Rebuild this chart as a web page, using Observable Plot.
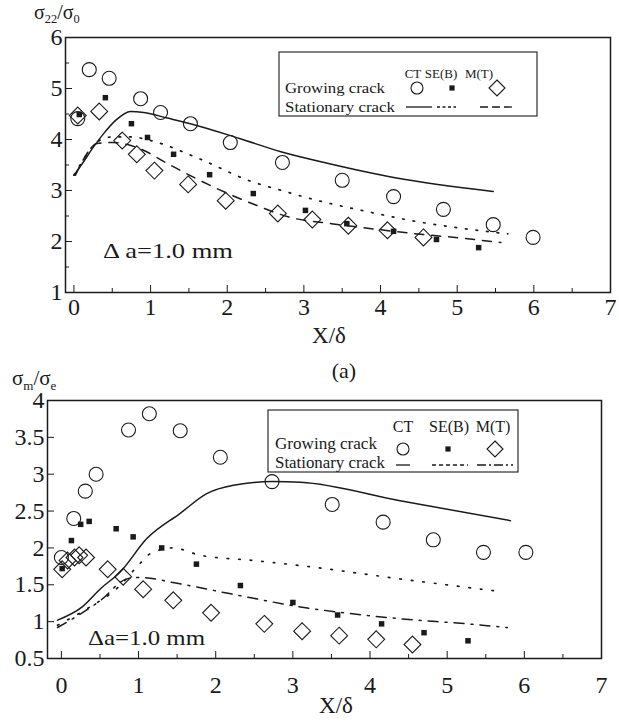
<!DOCTYPE html>
<html><head><meta charset="utf-8">
<script src="https://cdn.jsdelivr.net/npm/d3@7"></script>
<script src="https://cdn.jsdelivr.net/npm/@observablehq/plot@0.6"></script>
<style>
html,body{margin:0;padding:0;background:#fff;}
#wrap{position:relative;width:619px;height:725px;overflow:hidden;background:#fff;font-family:'Liberation Serif',serif;}
#wrap > svg{position:absolute;left:0;}
#wrap svg text{font-family:'Liberation Serif','Times New Roman',serif;}
</style></head><body><div id="wrap"></div>
<script>
// ---------- tick values ----------
const xTicks = [0, 1, 2, 3, 4, 5, 6, 7];
const xMinor = [0.5, 1.5, 2.5, 3.5, 4.5, 5.5, 6.5];
const topYTicks = [1, 2, 3, 4, 5, 6];
const topYMinor = [1.5, 2.5, 3.5, 4.5, 5.5];
const botYTicks = [0.5, 1, 1.5, 2, 2.5, 3, 3.5, 4];

// ---------- top panel (a): sigma22/sigma0 ----------
const topCtX = [0.05, 0.2, 0.46, 0.87, 1.13, 1.52, 2.04, 2.72, 3.5, 4.17, 4.82, 5.47, 5.99];
const topCtY = [4.41, 5.37, 5.2, 4.8, 4.53, 4.31, 3.94, 3.55, 3.2, 2.88, 2.63, 2.33, 2.08];
const topSeX = [0.07, 0.41, 0.75, 0.96, 1.3, 1.77, 2.34, 3.02, 3.56, 4.17, 4.73, 5.28];
const topSeY = [4.49, 4.82, 4.31, 4.04, 3.71, 3.31, 2.94, 2.61, 2.35, 2.2, 2.04, 1.88];
const topMtX = [0.05, 0.33, 0.63, 0.82, 1.05, 1.49, 1.98, 2.66, 3.11, 3.58, 4.09, 4.56];
const topMtY = [4.47, 4.55, 3.98, 3.71, 3.39, 3.12, 2.8, 2.55, 2.43, 2.31, 2.22, 2.08];

const topCtLineX = [0, 0.11, 0.24, 0.39, 0.54, 0.74, 0.91, 1.22, 1.52, 2.16, 2.7, 3.32, 4.19, 5.47];
const topCtLineY = [3.3, 3.53, 3.82, 4.12, 4.37, 4.55, 4.53, 4.42, 4.31, 4.02, 3.76, 3.53, 3.25, 2.98];
const topSeLineX = [0, 0.1, 0.3, 0.5, 0.75, 1.0, 1.64, 2.31, 2.71, 3.19, 3.88, 4.4, 5.1, 5.66];
const topSeLineY = [3.3, 3.55, 3.95, 4.05, 4.05, 3.98, 3.62, 3.18, 3.0, 2.8, 2.57, 2.41, 2.25, 2.15];
const topMtLineX = [0.02, 0.12, 0.3, 0.5, 0.7, 0.86, 1.22, 1.64, 2.07, 2.33, 2.83, 3.36, 3.94, 4.4, 5.1, 5.57];
const topMtLineY = [3.3, 3.6, 3.92, 3.94, 3.9, 3.82, 3.53, 3.2, 2.9, 2.74, 2.47, 2.35, 2.24, 2.16, 2.06, 1.98];

// ---------- bottom panel: sigma_m/sigma_e ----------
const botCtX = [0, 0.16, 0.31, 0.45, 0.87, 1.14, 1.54, 2.06, 2.73, 3.51, 4.17, 4.82, 5.47, 6.02];
const botCtY = [1.87, 2.4, 2.77, 3.0, 3.6, 3.82, 3.59, 3.23, 2.9, 2.59, 2.35, 2.11, 1.94, 1.94];
const botSeX = [0.01, 0.13, 0.25, 0.36, 0.71, 0.93, 1.3, 1.75, 2.32, 3.0, 3.58, 4.15, 4.7, 5.27];
const botSeY = [1.72, 2.1, 2.32, 2.36, 2.26, 2.15, 2.0, 1.78, 1.49, 1.26, 1.09, 0.97, 0.85, 0.74];
const botMtX = [0.01, 0.08, 0.17, 0.23, 0.32, 0.6, 0.8, 1.06, 1.45, 1.94, 2.63, 3.12, 3.6, 4.08, 4.55];
const botMtY = [1.71, 1.83, 1.87, 1.9, 1.87, 1.71, 1.61, 1.44, 1.29, 1.12, 0.97, 0.87, 0.81, 0.76, 0.69];

const botCtLineX = [-0.05, 0.27, 0.51, 0.76, 1.11, 1.54, 1.89, 2.23, 2.73, 3.1, 4.39, 5.82];
const botCtLineY = [1.02, 1.2, 1.45, 1.67, 2.13, 2.47, 2.74, 2.85, 2.9, 2.89, 2.64, 2.37];
const botSeLineX = [-0.05, 0.34, 0.73, 1.02, 1.15, 1.45, 1.8, 2.49, 3.1, 4.39, 5.6];
const botSeLineY = [0.95, 1.18, 1.46, 1.79, 1.92, 2.0, 1.9, 1.83, 1.76, 1.58, 1.42];
const botMtLineX = [-0.05, 0.51, 0.85, 1.02, 1.5, 2.23, 3.1, 3.74, 4.39, 5.26, 5.78];
const botMtLineY = [0.92, 1.29, 1.58, 1.6, 1.52, 1.37, 1.2, 1.11, 1.04, 0.97, 0.92];

const rows = (xs, ys) => xs.map((x, i) => ({x, y: ys[i]}));
const INK = "#1a1a1a";
const FONT = "'Liberation Serif', 'Times New Roman', serif";

function panel({height, mt, mb, ml, mr, xDomain, yDomain, yTicks, yMinor, xPad, ct, se, mt_, ctL, seL, mtL, seDash, mtDash}) {
  const marks = [
    Plot.frame({stroke: INK, strokeWidth: 1.5}),
    Plot.axisX({ticks: xTicks, tickSize: -7, text: null, stroke: INK}),
    Plot.axisX({ticks: xMinor, tickSize: -4, text: null, stroke: INK}),
    Plot.axisX({ticks: xTicks, tickSize: 0, tickPadding: xPad, tickFormat: d => String(d), fontSize: 24, fontFamily: FONT, label: null}),
    Plot.axisY({ticks: yTicks, tickSize: -7, text: null, stroke: INK}),
    Plot.axisY({ticks: yTicks, tickSize: 0, tickPadding: 3, tickFormat: d => String(d), fontSize: 24, fontFamily: FONT, label: null}),
    Plot.line(ctL, {x: "x", y: "y", stroke: INK, strokeWidth: 1.5, curve: "monotone-x"}),
    Plot.line(seL, {x: "x", y: "y", stroke: INK, strokeWidth: 1.7, strokeDasharray: seDash, curve: "monotone-x"}),
    Plot.line(mtL, {x: "x", y: "y", stroke: INK, strokeWidth: 1.5, strokeDasharray: mtDash, curve: "monotone-x"}),
    Plot.dot(ct, {x: "x", y: "y", symbol: "circle", r: 7, stroke: INK, fill: "none", strokeWidth: 1.1}),
    Plot.dot(se, {x: "x", y: "y", symbol: "square", r: 3.1, fill: INK, stroke: "none"}),
    Plot.dot(mt_, {x: "x", y: "y", symbol: "diamond2", r: 7.6, stroke: INK, fill: "none", strokeWidth: 1.1})
  ];
  if (yMinor) marks.splice(5, 0, Plot.axisY({ticks: yMinor, tickSize: -4, text: null, stroke: INK}));
  return Plot.plot({
    width: 619, height,
    marginTop: mt, marginBottom: mb, marginLeft: ml, marginRight: mr,
    style: {fontFamily: FONT, fontSize: "24px", color: INK, background: "transparent", overflow: "visible"},
    x: {domain: xDomain, label: null},
    y: {domain: yDomain, label: null},
    marks
  });
}

const wrap = document.getElementById("wrap");

const topSvg = panel({
  height: 350, mt: 37, mb: 58, ml: 65, mr: 9,
  xDomain: [-0.11, 7], yDomain: [1, 6], yTicks: topYTicks, yMinor: topYMinor, xPad: 5,
  ct: rows(topCtX, topCtY), se: rows(topSeX, topSeY), mt_: rows(topMtX, topMtY),
  ctL: rows(topCtLineX, topCtLineY), seL: rows(topSeLineX, topSeLineY), mtL: rows(topMtLineX, topMtLineY),
  seDash: "1.6,9", mtDash: "9,8"
});
topSvg.style.top = "0px";
wrap.appendChild(topSvg);

const botSvg = panel({
  height: 365, mt: 40, mb: 67, ml: 47, mr: 18,
  xDomain: [-0.18, 7], yDomain: [0.5, 4], yTicks: botYTicks, yMinor: null, xPad: 17,
  ct: rows(botCtX, botCtY), se: rows(botSeX, botSeY), mt_: rows(botMtX, botMtY),
  ctL: rows(botCtLineX, botCtLineY), seL: rows(botSeLineX, botSeLineY), mtL: rows(botMtLineX, botMtLineY),
  seDash: "1.6,10", mtDash: "10,7,2,7"
});
botSvg.style.top = "360px";
wrap.appendChild(botSvg);

// ---------- overlay: titles, annotations, legends ----------
const ov = d3.select(wrap).append("svg")
  .attr("width", 619).attr("height", 725)
  .style("position", "absolute").style("top", "0px").style("left", "0px")
  .attr("font-family", FONT).attr("fill", INK);

function sigmaLabel(x, y, size, s1, s2) {
  const t = ov.append("text").attr("x", x).attr("y", y).attr("font-size", size);
  t.append("tspan").text("σ");
  t.append("tspan").attr("font-size", size * 0.62).attr("dy", size * 0.22).text(s1);
  t.append("tspan").attr("dy", -size * 0.22).text("/σ");
  t.append("tspan").attr("font-size", size * 0.62).attr("dy", size * 0.22).text(s2);
}
sigmaLabel(34, 19, 20, "22", "0");
sigmaLabel(12, 385, 21, "m", "e");

function txt(x, y, size, s, opts = {}) {
  const t = ov.append("text").attr("x", x).attr("y", y).attr("font-size", size).text(s);
  if (opts.anchor) t.attr("text-anchor", opts.anchor);
  if (opts.len) t.attr("textLength", opts.len).attr("lengthAdjust", "spacingAndGlyphs");
  return t;
}
txt(329, 343, 23, "X/δ", {anchor: "middle"});
txt(344, 378, 22, "(a)", {anchor: "middle"});
txt(336, 713, 23, "X/δ", {anchor: "middle"});
txt(103, 258, 22, "Δ a=1.0 mm", {len: 130});
txt(88, 645, 22, "Δa=1.0 mm", {len: 117});

function legend(L) {
  ov.append("rect").attr("x", L.x).attr("y", L.y).attr("width", L.w).attr("height", L.h)
    .attr("fill", "#fff").attr("stroke", INK).attr("stroke-width", 1.1);
  txt(L.tx, L.r1, L.fs, "Growing crack", {len: L.len1});
  txt(L.tx, L.r2, L.fs, "Stationary crack", {len: L.len2});
  ["CT", "SE(B)", "M(T)"].forEach((s, i) => txt(L.hx[i], L.r0, L.hfs, s, {anchor: "middle"}));
  ov.append("circle").attr("cx", L.sx[0]).attr("cy", L.sy).attr("r", 6).attr("fill", "none").attr("stroke", INK).attr("stroke-width", 1.1);
  ov.append("rect").attr("x", L.sx[1] - 2.6).attr("y", L.sy - 2.6).attr("width", 5.2).attr("height", 5.2).attr("fill", INK);
  ov.append("path").attr("d", `M${L.sx[2]},${L.sy - 8}L${L.sx[2] + 8},${L.sy}L${L.sx[2]},${L.sy + 8}L${L.sx[2] - 8},${L.sy}Z`)
    .attr("fill", "none").attr("stroke", INK).attr("stroke-width", 1.1);
  L.lines.forEach(([x1, x2, dash]) =>
    ov.append("line").attr("x1", x1).attr("x2", x2).attr("y1", L.ly).attr("y2", L.ly)
      .attr("stroke", INK).attr("stroke-width", 1.3).attr("stroke-dasharray", dash));
}
legend({x: 279, y: 52, w: 258, h: 64, tx: 285, r0: 78, r1: 93, r2: 112, fs: 15, hfs: 13, len1: 100, len2: 110,
  hx: [413, 441, 479], sx: [417, 452, 497], sy: 88, ly: 107,
  lines: [[406, 432, null], [437, 456, "3,2.5"], [480, 516, "8,4"]]});
legend({x: 268, y: 410, w: 250, h: 62, tx: 275, r0: 432, r1: 449, r2: 468, fs: 16, hfs: 16, len1: 102, len2: 110,
  hx: [403, 449, 493], sx: [403, 448, 495], sy: 449, ly: 465,
  lines: [[396, 410, null], [432, 468, "4,3"], [477, 513, "9,3,2,3"]]});
</script></body></html>
